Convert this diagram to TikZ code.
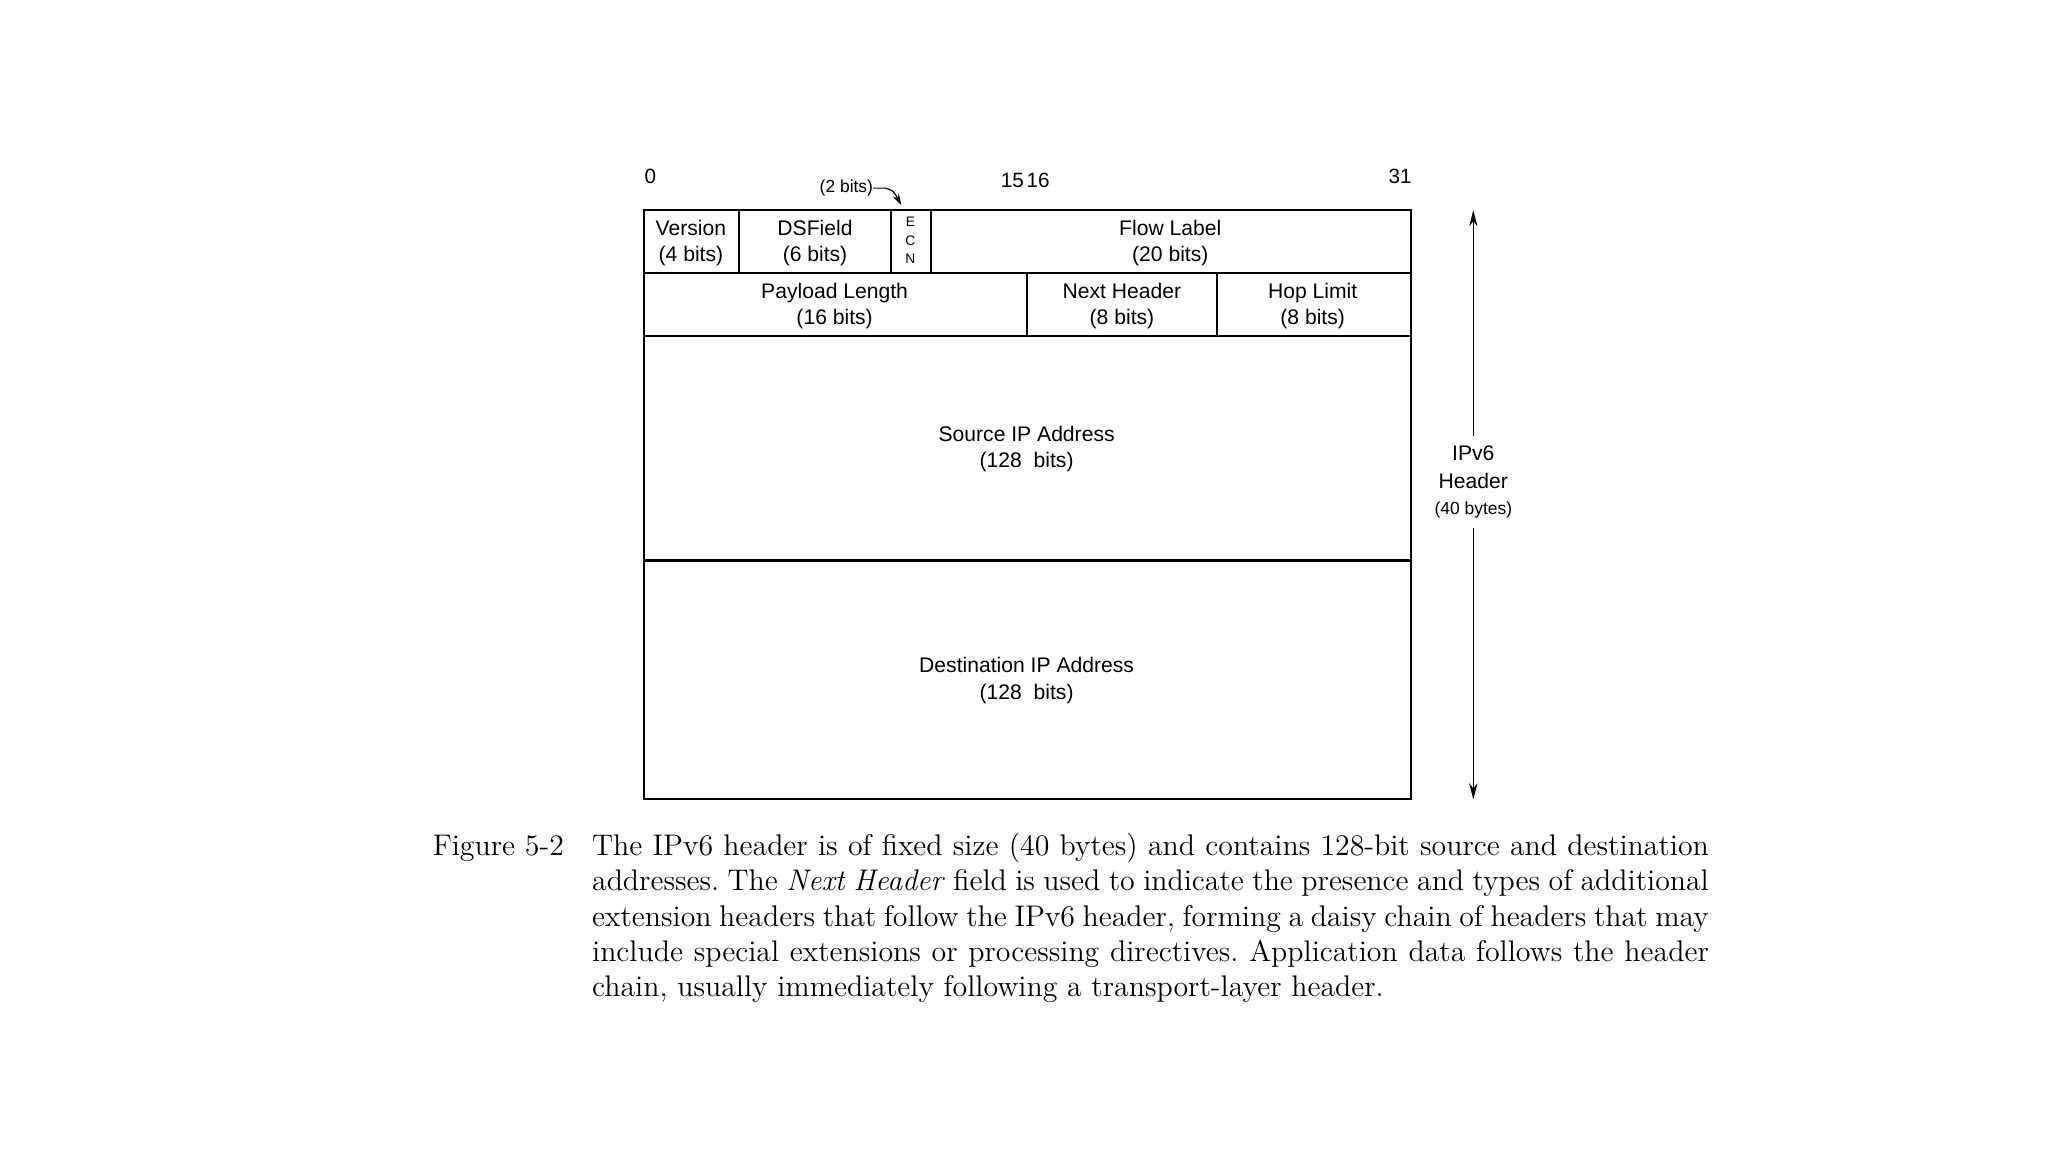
\documentclass[tikz,border=0pt]{standalone}
\usepackage{fontspec}
\setsansfont{Liberation Sans}
\usetikzlibrary{arrows.meta}

\tikzset{
  field/.style={font=\sffamily\fontsize{9.2}{11.4}\selectfont, align=center, inner sep=0pt},
  bitno/.style={font=\sffamily\fontsize{9}{10}\selectfont, inner sep=0pt},
  smalltxt/.style={font=\sffamily\fontsize{7.6}{9}\selectfont, inner sep=0pt},
  capt/.style={font=\fontsize{13}{15.4}\selectfont, inner sep=0pt},
  arr/.style={line width=0.6pt, -{Stealth[length=7pt,width=3.6pt]}}
}

\begin{document}
\frenchspacing
\begin{tikzpicture}[x=0.2mm, y=-0.2mm]
\useasboundingbox (0,0) rectangle (1568,882);

\draw [line width=0.8pt] (493,161) rectangle (1080,612);
\draw [line width=0.8pt] (493,209) -- (1080,209);
\draw [line width=0.8pt] (493,257) -- (1080,257);
\draw [line width=1.1pt] (493,429) -- (1080,429);
\foreach \x in {566,682,713} \draw [line width=0.8pt] (\x,161) -- (\x,209);
\foreach \x in {786,932} \draw [line width=0.8pt] (\x,209) -- (\x,257);

\node [bitno] (bzero) at (498,135) {0};
\node [bitno] (bmid) at (785,138) {15\kern1.2pt16};
\node [bitno] (bend) at (1072,135) {31};

\node [field] (version) at (529,186) {Version\\(4 bits)};
\node [field] (dsfield) at (624,186) {DSField\\(6 bits)};
\node [field, font=\sffamily\fontsize{6}{8}\selectfont] (ecn) at (697,184) {E\\C\\N};
\node [field] (flow) at (896,186) {Flow Label\\(20 bits)};
\node [field] (payload) at (639,234) {Payload Length\\(16 bits)};
\node [field] (nexthdr) at (859,234) {Next Header\\(8 bits)};
\node [field] (hoplim) at (1005,234) {Hop Limit\\(8 bits)};
\node [field] (srcaddr) at (786,344) {Source IP Address\\(128~~bits)};
\node [field] (dstaddr) at (786,521) {Destination IP Address\\(128~~bits)};

\node [smalltxt] (twobits) at (648,144) {(2 bits)};
\coordinate (ecntop) at (690,157);
\draw [line width=0.5pt, -{Stealth[length=5pt,width=3pt]}] (twobits.east) -- ++(9,0) .. controls (684,146) .. (ecntop);

\node [field, inner ysep=4pt] (hdrsize) at (1128,369)
  {IPv6\\[1pt]Header\\{\fontsize{7.6}{9}\selectfont(40 bytes)}};
\coordinate (hdrtop) at (1128,161);
\coordinate (hdrbot) at (1128,612);
\draw [arr] (hdrsize) -- (hdrtop);
\draw [arr] (hdrsize) -- (hdrbot);

\node [capt, anchor=base west] (figno) at (331,655) {Figure 5-2};
\node [capt, anchor=base west, text width=171mm, align=justify] (figtext) at (453,655)
  {\tolerance=9999 \hbadness=10000 The IPv6 header is of fixed size (40 bytes) and contains 128-bit source and destination\linebreak
   addresses. The \textit{Next Header} field is used to indicate the presence and types of additional\linebreak
   extension headers that follow the IPv6 header, forming a daisy chain of headers that may\linebreak
   include special extensions or processing directives. Application data follows the header\linebreak
   chain, usually immediately following a transport-layer header.};

\end{tikzpicture}
\end{document}
